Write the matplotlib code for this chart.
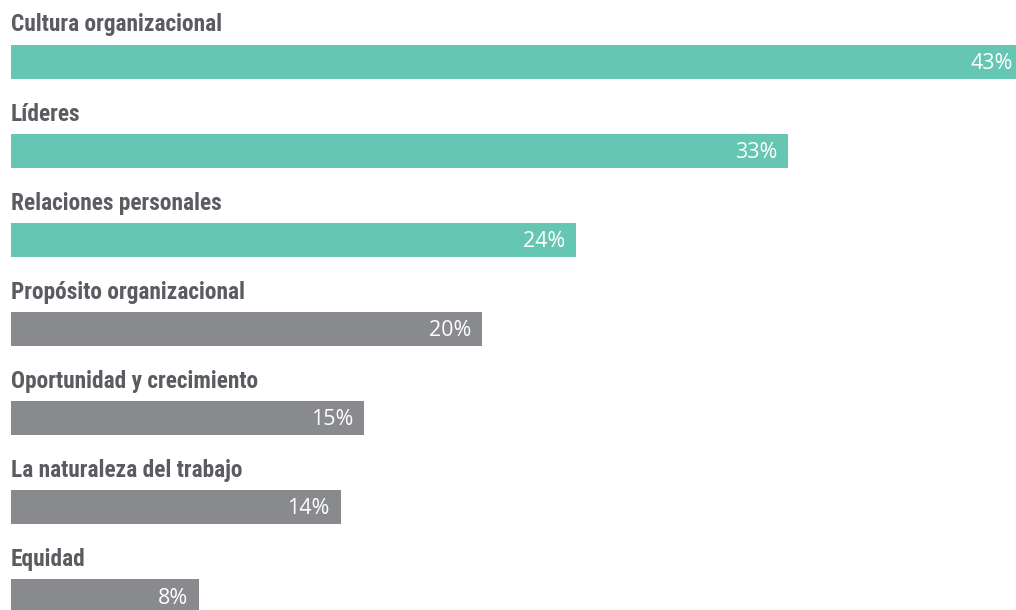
import matplotlib
matplotlib.use("Agg")
import matplotlib.pyplot as plt

# =========================
# DATA
# =========================

categories = [
    "Cultura organizacional",
    "Líderes",
    "Relaciones personales",
    "Propósito organizacional",
    "Oportunidad y crecimiento",
    "La naturaleza del trabajo",
    "Equidad",
]
values = [43, 33, 24, 20, 15, 14, 8]
highlight = [True, True, True, False, False, False, False]

TEAL = "#65C6B3"
GRAY = "#898A8E"
TEXT = "#5B5C61"

# =========================
# FIGURE
# =========================

fig = plt.figure(figsize=(10.16, 6.10), dpi=100)
ax = fig.add_axes([0, 0, 1, 1])

px_per_unit = 23.56
ax.set_xlim(-11 / px_per_unit, (1016 - 11) / px_per_unit)
ax.set_ylim(610, 0)
ax.axis("off")

step = 89.1
bar_h = 34

for i, (cat, val, hl) in enumerate(zip(categories, values, highlight)):
    yc = 61.5 + step * i
    ax.barh(yc, val, height=bar_h, color=TEAL if hl else GRAY, left=0)
    ax.text(0, yc - bar_h / 2 - 13, cat,
            family=["Roboto Condensed", "DejaVu Sans"],
            fontstretch="condensed",
            fontweight="bold", fontsize=16.8, color=TEXT,
            ha="left", va="baseline")
    ax.text(val - 11 / px_per_unit, yc + 2, f"{val}%",
            family=["Open Sans", "DejaVu Sans"],
            fontsize=15.5, color="white", ha="right", va="center")

fig.savefig("out.png", dpi=100)
